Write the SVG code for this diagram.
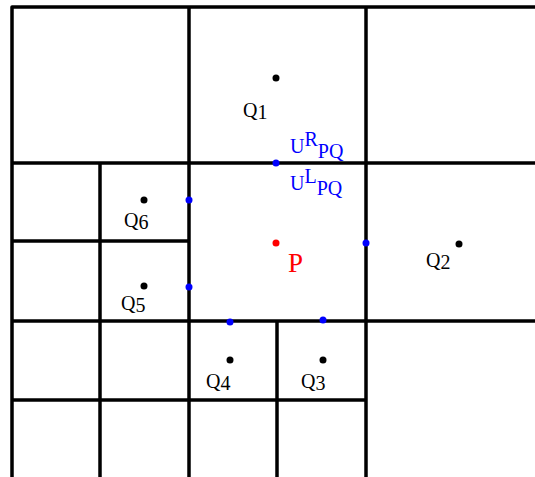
<svg xmlns="http://www.w3.org/2000/svg" width="535" height="477" viewBox="0 0 535 477">
<style>
.ln{stroke:#000;stroke-width:3.5;fill:none;stroke-linejoin:round}
.t{font-family:"Liberation Serif","Times New Roman",serif;font-size:20px;fill:#000}
.b{fill:#0000ff}
.k{fill:#000}
.u{font-family:"Liberation Serif","Times New Roman",serif;font-size:20px;fill:#0000ff}
</style>
<rect width="535" height="477" fill="#fff"/>
<g id="connectors">
<path class="ln" d="M12,477 V7 H535"/>
<path class="ln" d="M189,7 V477"/>
<path class="ln" d="M366,7 V477"/>
<path class="ln" d="M12,163 H535"/>
<path class="ln" d="M12,321 H535"/>
<path class="ln" d="M12,241 H189"/>
<path class="ln" d="M12,400 H366"/>
<path class="ln" d="M100,163 V477"/>
<path class="ln" d="M277,321 V477"/>
</g>
<g id="Q1"><circle class="k" cx="276" cy="78" r="3.5"/><text class="t" x="243" y="117">Q<tspan dy="2">1</tspan></text></g>
<g id="Q2"><circle class="k" cx="459" cy="244" r="3.5"/><text class="t" x="426" y="267">Q<tspan dy="2">2</tspan></text></g>
<g id="Q3"><circle class="k" cx="323" cy="360" r="3.5"/><text class="t" x="301" y="388">Q<tspan dy="2">3</tspan></text></g>
<g id="Q4"><circle class="k" cx="230" cy="360" r="3.5"/><text class="t" x="206" y="388">Q<tspan dy="2">4</tspan></text></g>
<g id="Q5"><circle class="k" cx="144" cy="286" r="3.5"/><text class="t" x="121" y="310">Q<tspan dy="2">5</tspan></text></g>
<g id="Q6"><circle class="k" cx="144" cy="200" r="3.5"/><text class="t" x="124" y="227">Q<tspan dy="2">6</tspan></text></g>
<g id="P"><circle cx="276" cy="243" r="3.5" fill="#ff0000"/><text x="288" y="272" font-family="Liberation Serif, Times New Roman, serif" font-size="27" fill="#ff0000">P</text></g>
<g id="U"><circle class="b" cx="276" cy="163" r="3.5"/>
<text class="u" x="290" y="153">U<tspan dy="-7">R</tspan><tspan dy="12">PQ</tspan></text>
<text class="u" x="290" y="190">U<tspan dy="-7">L</tspan><tspan dy="12">PQ</tspan></text></g>
<g id="boundary-points">
<circle class="b" cx="189" cy="200" r="3.5"/>
<circle class="b" cx="189" cy="287" r="3.5"/>
<circle class="b" cx="366" cy="243" r="3.5"/>
<circle class="b" cx="230" cy="322" r="3.5"/>
<circle class="b" cx="323" cy="320" r="3.5"/>
</g>
</svg>
